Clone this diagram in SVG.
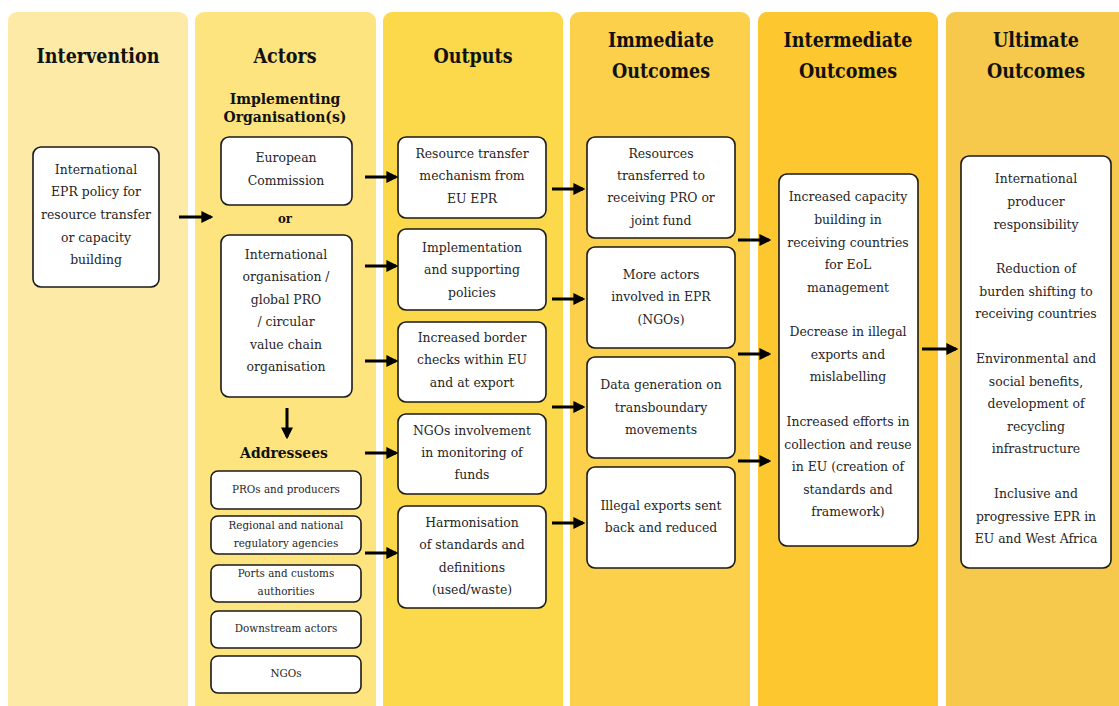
<svg xmlns="http://www.w3.org/2000/svg" width="1119" height="706" viewBox="0 0 1119 706" font-family="DejaVu Serif Condensed, DejaVu Serif, serif">
<defs>
<marker id="ah" markerWidth="4" markerHeight="4" refX="3.2" refY="2" orient="auto" markerUnits="strokeWidth">
<path d="M0,0 L4,2 L0,4 Z" fill="#000"/>
</marker>
<style>
.col{stroke:none}
.box{fill:#fff;stroke:#1a1a1a;stroke-width:1.6}
.t{font-size:13.8px;fill:#262626;text-anchor:middle}
.s{font-size:11.5px;fill:#262626;text-anchor:middle}
.h{font-size:19.5px;font-weight:bold;fill:#111;text-anchor:middle}
.sh{font-size:15.5px;font-weight:bold;fill:#111;text-anchor:middle}
.c{stroke:#000;stroke-width:3;fill:none;marker-end:url(#ah)}
</style>
</defs>
<rect width="1119" height="706" fill="#fff"/>
<g id="columns">
<rect class="col" x="8" y="12" width="180" height="702" rx="9" fill="#FDEAA7"/>
<rect class="col" x="195" y="12" width="181" height="702" rx="9" fill="#FDE47F"/>
<rect class="col" x="383" y="12" width="180" height="702" rx="9" fill="#FCD94A"/>
<rect class="col" x="570" y="12" width="180" height="702" rx="9" fill="#FCD04B"/>
<rect class="col" x="758" y="12" width="180" height="702" rx="9" fill="#FCC72F"/>
<rect class="col" x="946" y="12" width="185" height="702" rx="9" fill="#F6C84B"/>
</g>
<g id="headers">
<text class="h" x="98" y="63">Intervention</text>
<text class="h" x="285" y="63">Actors</text>
<text class="sh" x="285" y="104">Implementing</text>
<text class="sh" x="285" y="122">Organisation(s)</text>
<text class="h" x="473" y="63">Outputs</text>
<text class="h" x="661" y="47">Immediate</text>
<text class="h" x="661" y="78">Outcomes</text>
<text class="h" x="848" y="47">Intermediate</text>
<text class="h" x="848" y="78">Outcomes</text>
<text class="h" x="1036" y="47">Ultimate</text>
<text class="h" x="1036" y="78">Outcomes</text>
<text class="sh" x="285" y="223" style="font-size:13px">or</text>
<text class="sh" x="284" y="458">Addressees</text>
</g>
<g id="n-intervention">
<rect class="box" x="33" y="147" width="126" height="140" rx="8"/>
<text class="t" x="96" y="174">International</text>
<text class="t" x="96" y="196">EPR policy for</text>
<text class="t" x="96" y="219">resource transfer</text>
<text class="t" x="96" y="242">or capacity</text>
<text class="t" x="96" y="264">building</text>
</g>
<g id="n-ec">
<rect class="box" x="221" y="137" width="131" height="68" rx="8"/>
<text class="t" x="286" y="162">European</text>
<text class="t" x="286" y="185">Commission</text>
</g>
<g id="n-intorg">
<rect class="box" x="221" y="235" width="131" height="162" rx="8"/>
<text class="t" x="286" y="259">International</text>
<text class="t" x="286" y="281">organisation /</text>
<text class="t" x="286" y="304">global PRO</text>
<text class="t" x="286" y="326">/ circular</text>
<text class="t" x="286" y="349">value chain</text>
<text class="t" x="286" y="371">organisation</text>
</g>
<g id="n-a1">
<rect class="box" x="211" y="471" width="150" height="38" rx="7"/>
<text class="s" x="286" y="493">PROs and producers</text>
</g>
<g id="n-a2">
<rect class="box" x="211" y="516" width="150" height="38" rx="7"/>
<text class="s" x="286" y="529">Regional and national</text>
<text class="s" x="286" y="547">regulatory agencies</text>
</g>
<g id="n-a3">
<rect class="box" x="211" y="565" width="150" height="37" rx="7"/>
<text class="s" x="286" y="577">Ports and customs</text>
<text class="s" x="286" y="595">authorities</text>
</g>
<g id="n-a4">
<rect class="box" x="211" y="611" width="150" height="37" rx="7"/>
<text class="s" x="286" y="632">Downstream actors</text>
</g>
<g id="n-a5">
<rect class="box" x="211" y="656" width="150" height="37" rx="7"/>
<text class="s" x="286" y="677">NGOs</text>
</g>
<g id="n-o1">
<rect class="box" x="398" y="137" width="148" height="81" rx="8"/>
<text class="t" x="472" y="158">Resource transfer</text>
<text class="t" x="472" y="180">mechanism from</text>
<text class="t" x="472" y="203">EU EPR</text>
</g>
<g id="n-o2">
<rect class="box" x="398" y="229" width="148" height="81" rx="8"/>
<text class="t" x="472" y="252">Implementation</text>
<text class="t" x="472" y="274">and supporting</text>
<text class="t" x="472" y="297">policies</text>
</g>
<g id="n-o3">
<rect class="box" x="398" y="322" width="148" height="80" rx="8"/>
<text class="t" x="472" y="342">Increased border</text>
<text class="t" x="472" y="364">checks within EU</text>
<text class="t" x="472" y="387">and at export</text>
</g>
<g id="n-o4">
<rect class="box" x="398" y="414" width="148" height="80" rx="8"/>
<text class="t" x="472" y="435">NGOs involvement</text>
<text class="t" x="472" y="457">in monitoring of</text>
<text class="t" x="472" y="479">funds</text>
</g>
<g id="n-o5">
<rect class="box" x="398" y="506" width="148" height="102" rx="8"/>
<text class="t" x="472" y="527">Harmonisation</text>
<text class="t" x="472" y="549">of standards and</text>
<text class="t" x="472" y="572">definitions</text>
<text class="t" x="472" y="594">(used/waste)</text>
</g>
<g id="n-i1">
<rect class="box" x="587" y="137" width="148" height="101" rx="8"/>
<text class="t" x="661" y="158">Resources</text>
<text class="t" x="661" y="180">transferred to</text>
<text class="t" x="661" y="202">receiving PRO or</text>
<text class="t" x="661" y="225">joint fund</text>
</g>
<g id="n-i2">
<rect class="box" x="587" y="247" width="148" height="101" rx="8"/>
<text class="t" x="661" y="279">More actors</text>
<text class="t" x="661" y="301">involved in EPR</text>
<text class="t" x="661" y="324">(NGOs)</text>
</g>
<g id="n-i3">
<rect class="box" x="587" y="357" width="148" height="101" rx="8"/>
<text class="t" x="661" y="389">Data generation on</text>
<text class="t" x="661" y="412">transboundary</text>
<text class="t" x="661" y="434">movements</text>
</g>
<g id="n-i4">
<rect class="box" x="587" y="467" width="148" height="101" rx="8"/>
<text class="t" x="661" y="510">Illegal exports sent</text>
<text class="t" x="661" y="532">back and reduced</text>
</g>
<g id="n-intermediate">
<rect class="box" x="779" y="174" width="139" height="372" rx="8"/>
<text class="t" x="848" y="201">Increased capacity</text>
<text class="t" x="848" y="224">building in</text>
<text class="t" x="848" y="247">receiving countries</text>
<text class="t" x="848" y="269">for EoL</text>
<text class="t" x="848" y="292">management</text>
<text class="t" x="848" y="336">Decrease in illegal</text>
<text class="t" x="848" y="359">exports and</text>
<text class="t" x="848" y="381">mislabelling</text>
<text class="t" x="848" y="426">Increased efforts in</text>
<text class="t" x="848" y="449">collection and reuse</text>
<text class="t" x="848" y="471">in EU (creation of</text>
<text class="t" x="848" y="494">standards and</text>
<text class="t" x="848" y="516">framework)</text>
</g>
<g id="n-ultimate">
<rect class="box" x="961" y="156" width="150" height="412" rx="8"/>
<text class="t" x="1036" y="183">International</text>
<text class="t" x="1036" y="206">producer</text>
<text class="t" x="1036" y="229">responsibility</text>
<text class="t" x="1036" y="273">Reduction of</text>
<text class="t" x="1036" y="296">burden shifting to</text>
<text class="t" x="1036" y="318">receiving countries</text>
<text class="t" x="1036" y="363">Environmental and</text>
<text class="t" x="1036" y="386">social benefits,</text>
<text class="t" x="1036" y="408">development of</text>
<text class="t" x="1036" y="431">recycling</text>
<text class="t" x="1036" y="453">infrastructure</text>
<text class="t" x="1036" y="498">Inclusive and</text>
<text class="t" x="1036" y="521">progressive EPR in</text>
<text class="t" x="1036" y="543">EU and West Africa</text>
</g>
<g id="connectors">
<line class="c" x1="179" y1="217" x2="211" y2="217"/>
<line class="c" x1="287" y1="408" x2="287" y2="437"/>
<line class="c" x1="365" y1="177" x2="396" y2="177"/>
<line class="c" x1="365" y1="266" x2="396" y2="266"/>
<line class="c" x1="365" y1="361" x2="396" y2="361"/>
<line class="c" x1="365" y1="453" x2="396" y2="453"/>
<line class="c" x1="365" y1="553" x2="396" y2="553"/>
<line class="c" x1="552" y1="189" x2="583" y2="189"/>
<line class="c" x1="552" y1="299" x2="583" y2="299"/>
<line class="c" x1="552" y1="407" x2="583" y2="407"/>
<line class="c" x1="552" y1="523" x2="583" y2="523"/>
<line class="c" x1="738" y1="240" x2="769" y2="240"/>
<line class="c" x1="738" y1="354" x2="769" y2="354"/>
<line class="c" x1="738" y1="461" x2="769" y2="461"/>
<line class="c" x1="922" y1="349" x2="956" y2="349"/>
</g>
</svg>
